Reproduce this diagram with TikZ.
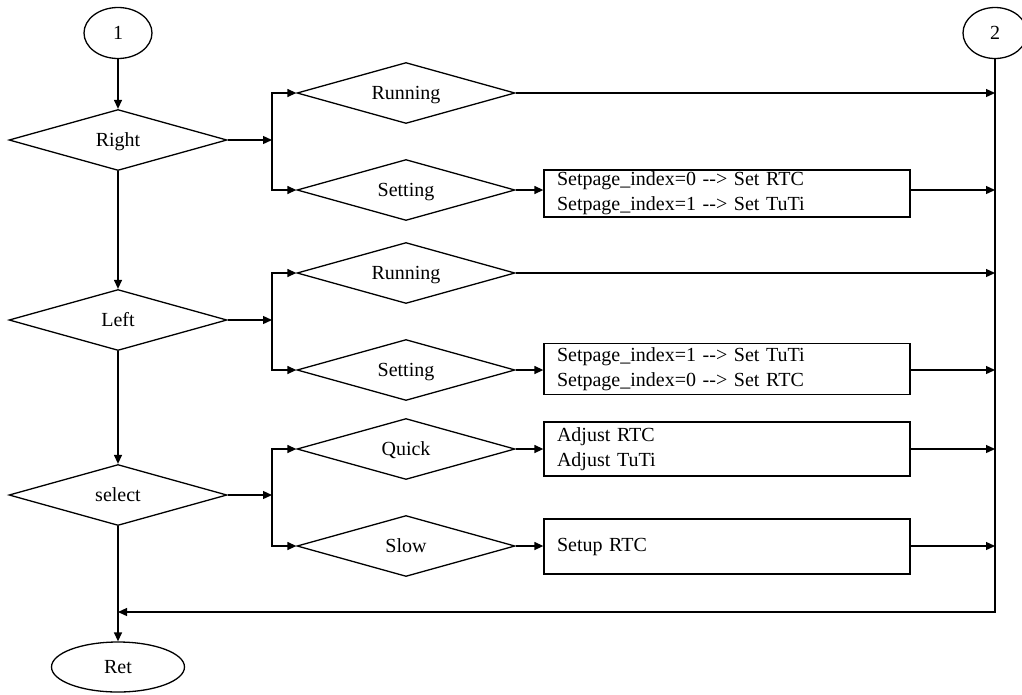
\documentclass[tikz,border=0pt]{standalone}
\usepackage{fontspec}
\setmainfont{Liberation Serif}
\usetikzlibrary{shapes.geometric,arrows.meta}
\begin{document}
\begin{tikzpicture}[x=1pt,y=-1pt,
  every node/.style={font=\fontsize{20}{25}\selectfont},
  line/.style={line width=1.3pt, line join=miter},
  arr/.style={line, -{Triangle[length=9pt,width=8pt]}},
  term/.style={ellipse, draw, line width=1.3pt, inner sep=0pt,
               text height=13pt, text depth=0pt},
  decide/.style={diamond, draw, line width=1.3pt, inner sep=0pt, aspect=3.6,
                 text height=13pt, text depth=0pt,
                 minimum width=218pt, minimum height=61pt},
  action/.style={rectangle, draw, line width=1.3pt, minimum width=366pt,
                 inner xsep=13pt, inner ysep=0pt, text width=340pt, align=left}
]
\useasboundingbox (0,0) rectangle (1022,694);

% terminals and connectors
\node[term, minimum width=68pt, minimum height=51pt] (c1) at (118,33) {1};
\node[term, minimum width=64pt, minimum height=51pt] (c2) at (995,33) {2};
\node[term, minimum width=133pt, minimum height=50pt] (ret) at (118,667) {Ret};

% key decisions
\node[decide] (right) at (118,140) {Right};
\node[decide] (left)  at (118,320) {Left};
\node[decide] (sel)   at (118,495) {select};

% mode decisions
\node[decide] (run1)  at (406,93)  {Running};
\node[decide] (set1)  at (406,190) {Setting};
\node[decide] (run2)  at (406,273) {Running};
\node[decide] (set2)  at (406,370) {Setting};
\node[decide] (quick) at (406,449) {Quick};
\node[decide] (slow)  at (406,546) {Slow};

% actions
\node[action, minimum height=47pt] (box1) at (727,193.5)
  {Setpage\_index=0 -{}-{}> Set RTC\\Setpage\_index=1 -{}-{}> Set TuTi};
\node[action, minimum height=51pt] (box2) at (727,369)
  {Setpage\_index=1 -{}-{}> Set TuTi\\Setpage\_index=0 -{}-{}> Set RTC};
\node[action, minimum height=54pt] (box3) at (727,449)
  {Adjust RTC\\Adjust TuTi};
\node[action, minimum height=55pt] (box4) at (727,546.5)
  {Setup RTC};

% branch points
\coordinate (b1) at (272,140);
\coordinate (b2) at (272,320);
\coordinate (b3) at (272,495);
\coordinate (j)  at (118,612);

% main chain
\draw[arr] (c1) -- (right.north);
\draw[arr] (right.south) -- (left.north);
\draw[arr] (left.south) -- (sel.north);
\draw[arr] (sel.south) -- (ret.north);

% branches
\draw[arr] (right.east) -- (b1);
\draw[arr] (b1) |- (run1.west);
\draw[arr] (b1) |- (set1.west);
\draw[arr] (left.east) -- (b2);
\draw[arr] (b2) |- (run2.west);
\draw[arr] (b2) |- (set2.west);
\draw[arr] (sel.east) -- (b3);
\draw[arr] (b3) |- (quick.west);
\draw[arr] (b3) |- (slow.west);

% into actions
\draw[arr] (set1.east) -- (set1.east -| box1.west);
\draw[arr] (set2.east) -- (set2.east -| box2.west);
\draw[arr] (quick.east) -- (quick.east -| box3.west);
\draw[arr] (slow.east) -- (slow.east -| box4.west);

% into return bus
\draw[arr] (run1.east) -- (run1.east -| c2.south);
\draw[arr] (set1.east -| box1.east) -- (set1.east -| c2.south);
\draw[arr] (run2.east) -- (run2.east -| c2.south);
\draw[arr] (set2.east -| box2.east) -- (set2.east -| c2.south);
\draw[arr] (quick.east -| box3.east) -- (quick.east -| c2.south);
\draw[arr] (slow.east -| box4.east) -- (slow.east -| c2.south);

% return bus
\draw[arr] (c2.south) |- (j);
\end{tikzpicture}
\end{document}
